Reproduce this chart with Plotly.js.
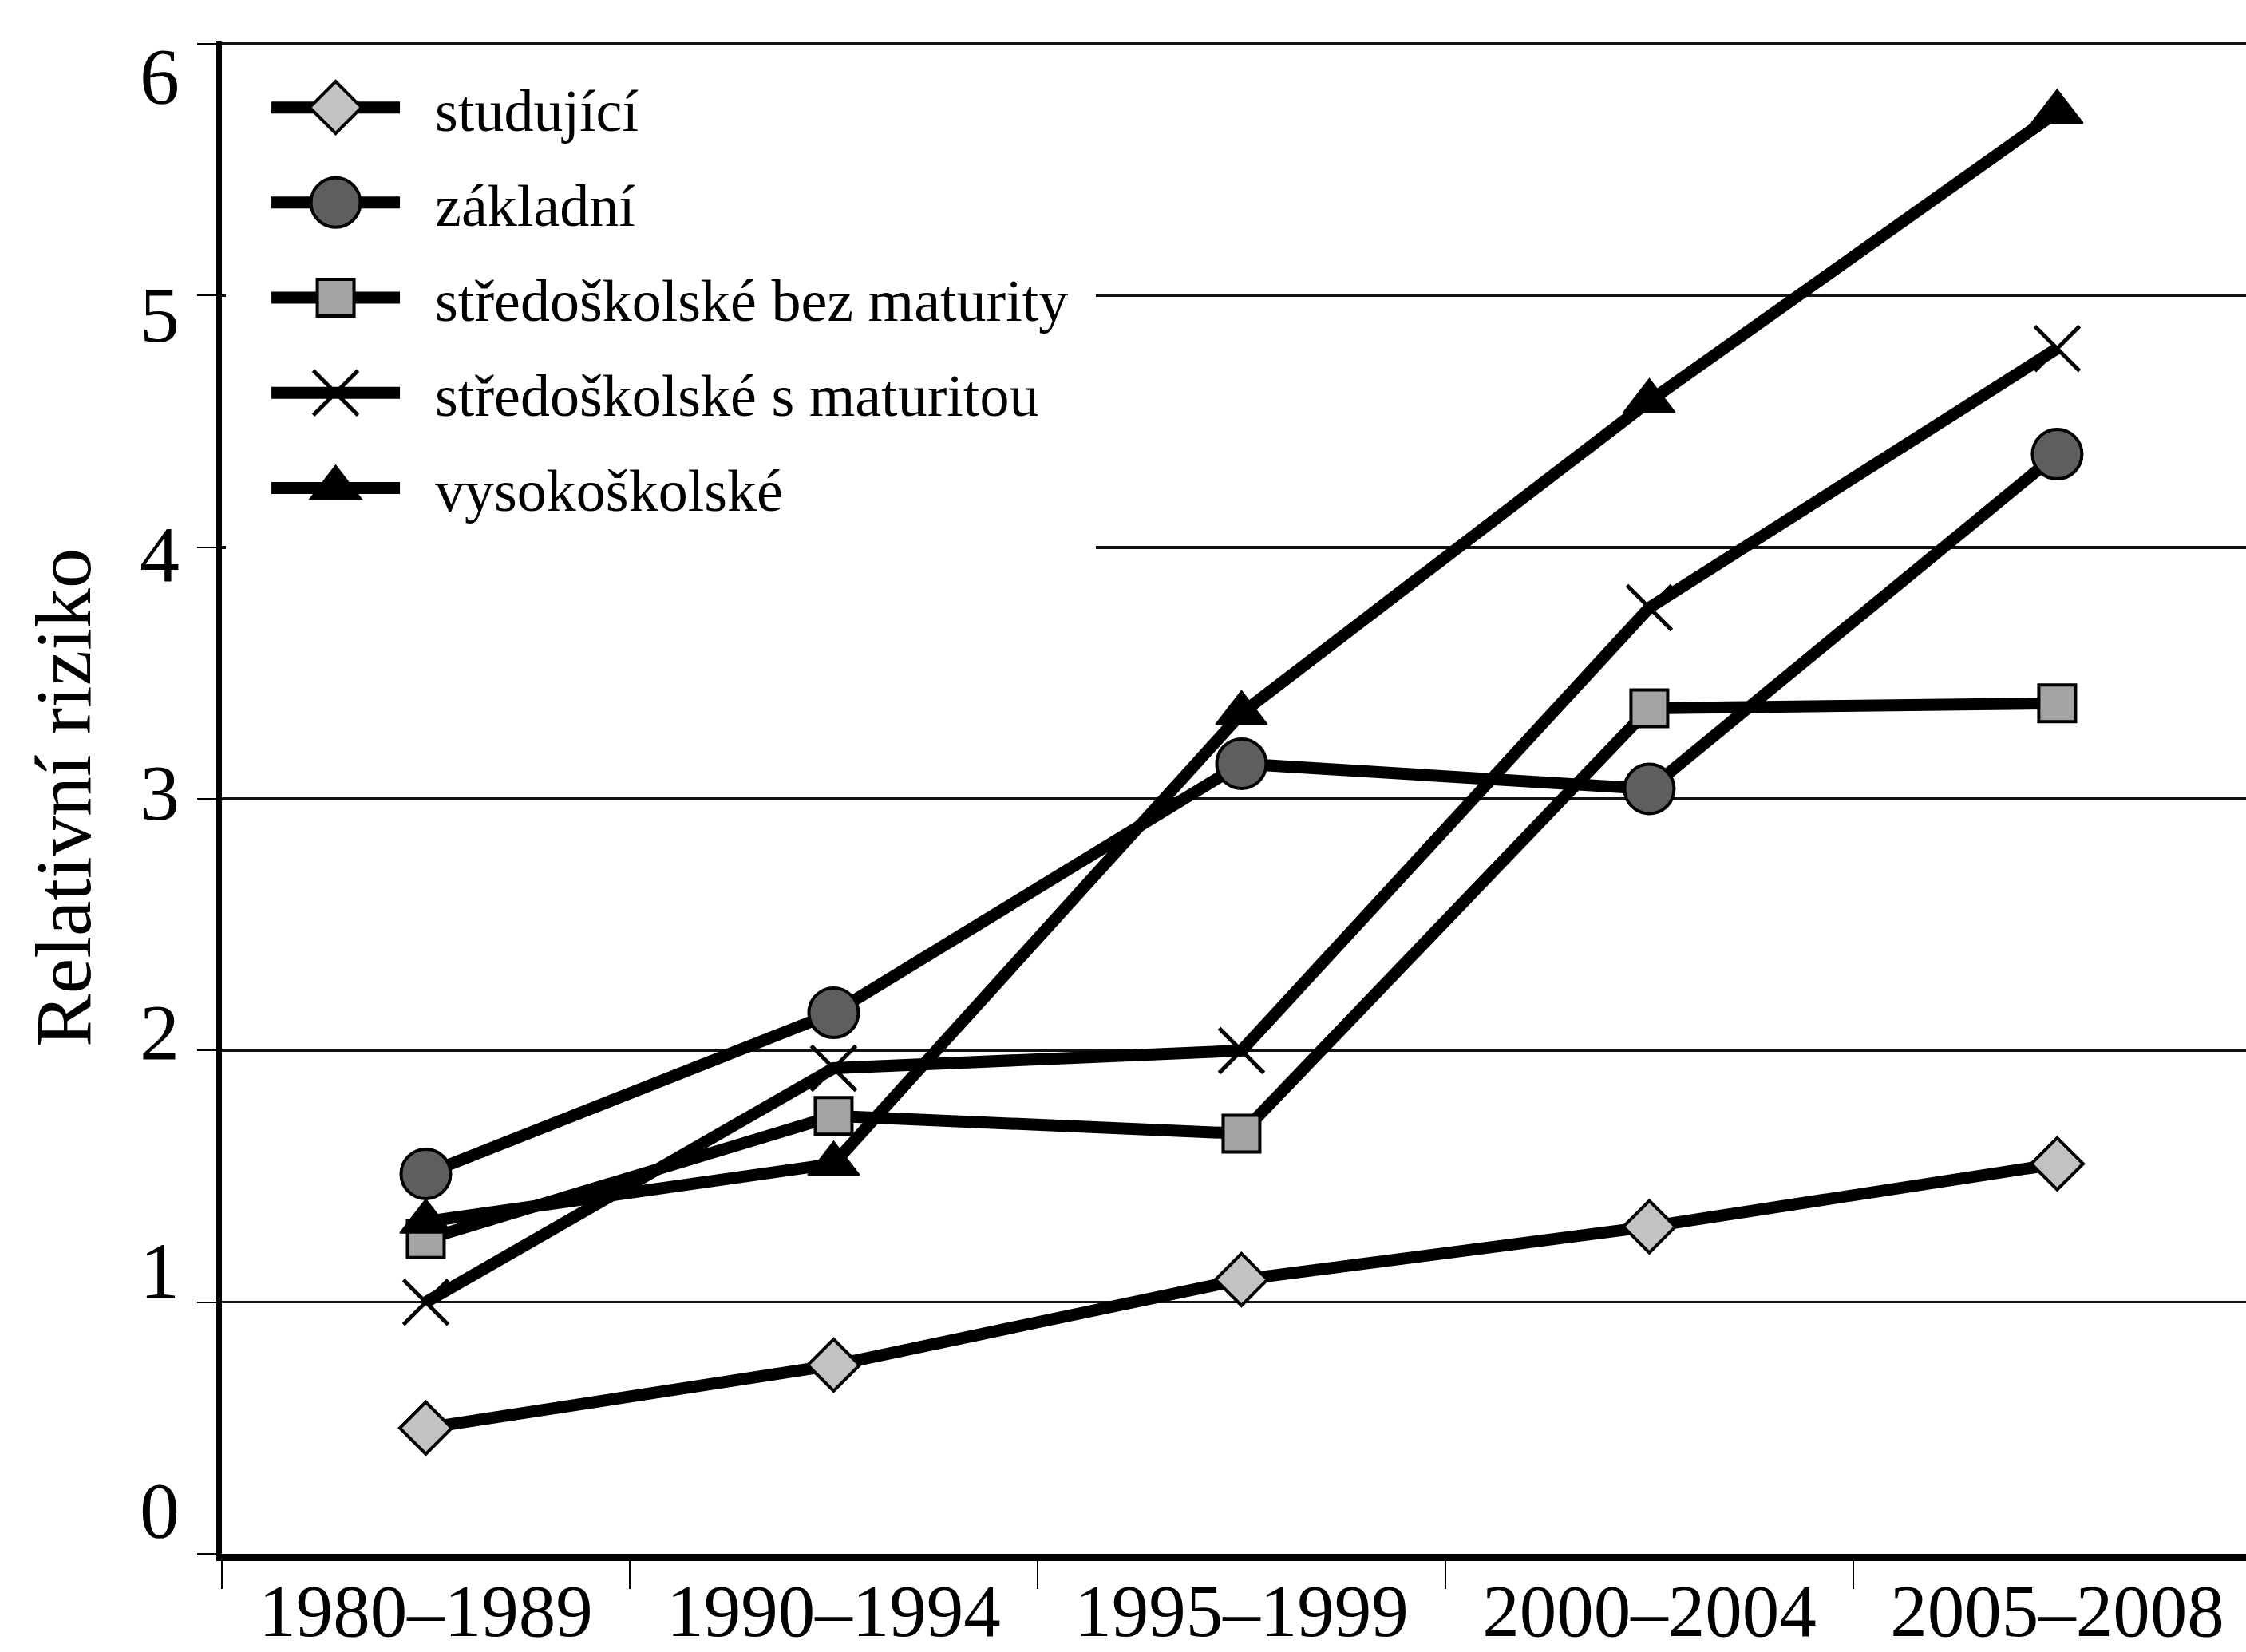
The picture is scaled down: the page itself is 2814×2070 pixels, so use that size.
<!DOCTYPE html>
<html>
<head>
<meta charset="utf-8">
<script src="https://cdn.plot.ly/plotly-3.0.1.min.js"></script>
<style>html,body{margin:0;padding:0;background:#fff;}#chart{width:2814px;height:2070px;}</style>
</head>
<body>
<div id="chart"></div>
<script>
const categories = ["1980–1989", "1990–1994", "1995–1999", "2000–2004", "2005–2008"];
const studujici = [0.50, 0.75, 1.09, 1.30, 1.55];
const zakladni = [1.51, 2.15, 3.14, 3.04, 4.37];
const bezMaturity = [1.25, 1.74, 1.67, 3.36, 3.38];
const sMaturitou = [1.00, 1.93, 2.00, 3.76, 4.79];
const vysokoskolske = [1.32, 1.55, 3.34, 4.58, 5.73];
const seriesNames = ["studující", "základní", "středoškolské bez maturity", "středoškolské s maturitou", "vysokoškolské"];
const yTicks = [0, 1, 2, 3, 4, 5, 6];

const FONT = "Liberation Serif, Times New Roman, serif";
const lineW = 15;
const LEG_LINE = 161;

function tr(name, y, symbol, size, fill, lw, group) {
  return {
    type: "scatter", mode: "lines+markers", name: name, x: categories, y: y,
    legendgroup: group,
    line: {color: "#000", width: lineW},
    marker: {symbol: symbol, size: size, color: fill, line: {color: "#000", width: lw}},
    cliponaxis: false
  };
}

const data = [
  tr(seriesNames[0], studujici, "diamond", 50, "#c2c2c2", 4, "a"),
  tr(seriesNames[1], zakladni, "circle", 62, "#5e5e5e", 4, "b"),
  tr(seriesNames[2], bezMaturity, "square", 46, "#a3a3a3", 4, "c"),
  tr(seriesNames[3], sMaturitou, "x-thin-open", 56, "#000", 5, "d"),
  tr(seriesNames[4], vysokoskolske, "triangle-up", 56, "#000", 2, "e"),
  {type: "scatter", x: [], y: [], xaxis: "x", yaxis: "y2", showlegend: false, hoverinfo: "skip"}
];
const markerLineW = [4, 4, 4, 5, 2];

const layout = {
  width: 2814, height: 2070,
  paper_bgcolor: "#fff", plot_bgcolor: "#fff",
  margin: {l: 278, r: 0, t: 52, b: 123},
  font: {family: FONT, color: "#000"},
  showlegend: true,
  legend: {
    x: 0.0225, y: 0.9852, xanchor: "left", yanchor: "top",
    bgcolor: "#fff", borderwidth: 0,
    font: {family: FONT, size: 74, color: "#000"},
    traceorder: "grouped", tracegroupgap: 20,
    itemwidth: 200, itemsizing: "trace"
  },
  xaxis: {
    type: "category", range: [-0.5, 4.463],
    showline: true, linecolor: "#000", linewidth: 9,
    ticks: "outside", ticklen: 35, tickwidth: 2, tickcolor: "#000",
    tickson: "boundaries", showgrid: false, zeroline: false,
    ticklabelstandoff: -18,
    tickfont: {family: FONT, size: 93, color: "#000"}
  },
  yaxis: {
    range: [0, 6.01], tickvals: yTicks, showticklabels: false,
    showline: true, linecolor: "#000", linewidth: 7,
    ticks: "outside", ticklen: 24, tickwidth: 2, tickcolor: "#000",
    showgrid: true, gridcolor: "#111", gridwidth: 3.5, zeroline: false
  },
  yaxis2: {
    overlaying: "y", side: "left", anchor: "x",
    range: [-0.187, 6.14], tickvals: yTicks, ticktext: yTicks.map(String),
    showline: false, showgrid: false, zeroline: false, ticks: "",
    ticklabelstandoff: 52,
    tickfont: {family: FONT, size: 100, color: "#000"},
    title: {text: "Relativní riziko", font: {family: FONT, size: 100, color: "#000"}, standoff: 28}
  }
};

function parseTranslate(el) {
  const t = el.getAttribute("transform") || "";
  const m = /translate\(\s*([-\d.eE]+)[ ,]+([-\d.eE]+)\s*\)/.exec(t);
  return m ? [parseFloat(m[1]), parseFloat(m[2])] : [0, 0];
}

function enlargeLegend(gd) {
  const traceGroups = gd.querySelectorAll(".scatterlayer .trace");
  const items = gd.querySelectorAll("g.legend g.traces");
  items.forEach(function (g, i) {
    const ln = g.querySelector("path.js-line");
    if (ln) {
      ln.setAttribute("d", "M5,0h" + LEG_LINE);
      ln.style.strokeWidth = lineW + "px";
    }
    const mainPt = traceGroups[i] ? traceGroups[i].querySelector("path.point") : null;
    g.querySelectorAll("path.scatterpts").forEach(function (p) {
      let s = 3;
      try {
        const a = mainPt.getBBox().width, b = p.getBBox().width;
        if (a > 0 && b > 0) s = a / b;
      } catch (e) {}
      p.setAttribute("transform", "translate(" + (5 + LEG_LINE / 2) + ",0) scale(" + s + ")");
      p.style.strokeWidth = (markerLineW[i] / s) + "px";
    });
  });
  const leg = gd.querySelector("g.legend");
  const bg = leg ? leg.querySelector("rect.bg") : null;
  if (leg && bg) {
    const t = parseTranslate(leg);
    bg.setAttribute("x", 283 - t[0]);
    bg.setAttribute("y", 60 - t[1]);
    bg.setAttribute("width", 1373 - 283);
    bg.setAttribute("height", 725 - 60);
  }
}

Plotly.newPlot("chart", data, layout, {staticPlot: true, displayModeBar: false}).then(function (gd) {
  enlargeLegend(gd);
});
</script>
</body>
</html>
